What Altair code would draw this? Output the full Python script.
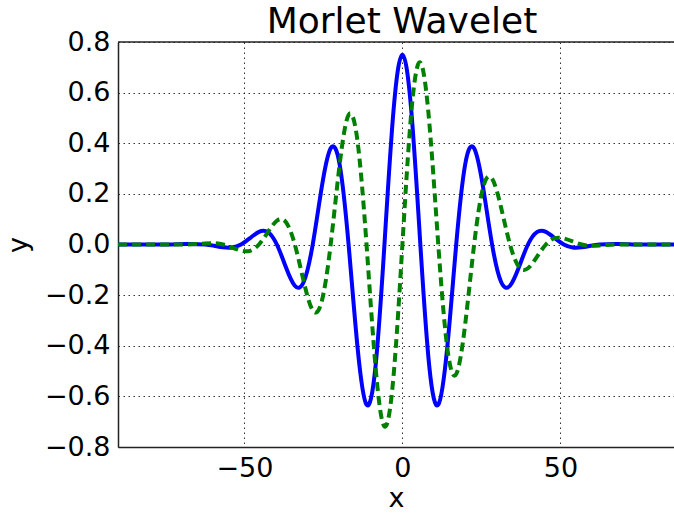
import altair as alt
import pandas as pd

# Sample positions along x (shared by both curves), symmetric about zero
x_pos = [
    -90.0, -80.0, -73.8, -68.1,
    -62.43, -59.59, -56.75, -53.91, -51.08, -48.24, -45.40, -42.56,
    -39.73, -36.89, -34.05, -31.21, -28.38, -25.54, -22.70, -19.86,
    -17.03, -14.19, -11.35, -8.51, -5.68, -2.84,
    0.0,
    2.84, 5.68, 8.51, 11.35, 14.19, 17.03, 19.86, 22.70, 25.54,
    28.38, 31.21, 34.05, 36.89, 39.73, 42.56, 45.40, 48.24, 51.08,
    53.91, 56.75, 59.59, 62.43,
    68.1, 73.8, 80.0, 90.0,
]

# Real part (solid blue)
real_part = [
    0.0, 0.0, 0.0, 0.002,
    0.0, -0.005, -0.011, -0.012, 0.0, 0.025, 0.050, 0.049,
    0.0, -0.089, -0.163, -0.147, 0.0, 0.225, 0.380, 0.316,
    0.0, -0.407, -0.633, -0.482, 0.0, 0.525,
    0.750,
    0.525, 0.0, -0.482, -0.633, -0.407, 0.0, 0.316, 0.380, 0.225,
    0.0, -0.147, -0.163, -0.089, 0.0, 0.049, 0.050, 0.025, 0.0,
    -0.012, -0.011, -0.005, 0.0,
    0.002, 0.0, 0.0, 0.0,
]

# Imaginary part (dashed green)
imag_part = [
    0.0, 0.0, 0.0, 0.0,
    0.004, 0.005, 0.0, -0.012, -0.024, -0.025, 0.0, 0.049,
    0.094, 0.089, 0.0, -0.147, -0.260, -0.225, 0.0, 0.316,
    0.512, 0.407, 0.0, -0.482, -0.719, -0.525,
    0.0,
    0.525, 0.719, 0.482, 0.0, -0.407, -0.512, -0.316, 0.0, 0.225,
    0.260, 0.147, 0.0, -0.089, -0.094, -0.049, 0.0, 0.025, 0.024,
    0.012, 0.0, -0.005, -0.004,
    0.0, 0.0, 0.0, 0.0,
]

x_ticks = [-50, 0, 50]
y_ticks = [-0.8, -0.6, -0.4, -0.2, 0.0, 0.2, 0.4, 0.6, 0.8]

df = pd.DataFrame({"x": x_pos, "real": real_part, "imag": imag_part})

FONT = "DejaVu Sans"
SPINE = "#222222"

x_enc = alt.X(
    "x:Q",
    scale=alt.Scale(domain=[-90, 85.95], nice=False, zero=False),
    axis=alt.Axis(values=x_ticks, format="d", title="x"),
)
y_scale = alt.Scale(domain=[-0.8, 0.8], nice=False)
y_axis = alt.Axis(values=y_ticks, format=".1f", title="y")

real_line = alt.Chart(df).mark_line(
    color="#0000ff", strokeWidth=4, interpolate="natural", clip=True
).encode(x=x_enc, y=alt.Y("real:Q", scale=y_scale, axis=y_axis))

imag_line = alt.Chart(df).mark_line(
    color="#008000", strokeWidth=4, strokeDash=[9, 5],
    interpolate="natural", clip=True
).encode(x=x_enc, y=alt.Y("imag:Q", scale=y_scale, axis=y_axis))

# top spine of the frame
top_spine = alt.Chart().mark_rule(color=SPINE, strokeWidth=1.5).encode(
    y=alt.datum(0.8, scale=y_scale)
)

chart = (
    alt.layer(real_line, imag_line, top_spine)
    .properties(
        width=556,
        height=405,
        title=alt.TitleParams(
            "Morlet Wavelet", font=FONT, fontSize=36, fontWeight="normal",
            color="black", anchor="middle", offset=-13, dx=6,
        ),
        autosize=alt.AutoSizeParams(type="none"),
        padding={"left": 118, "top": 42, "right": 0, "bottom": 69},
    )
    .configure_view(stroke=None)
    .configure_axis(
        labelFont=FONT, labelFontSize=27, labelColor="black",
        titleFont=FONT, titleFontSize=27, titleFontWeight="normal",
        titleColor="black",
        domainColor=SPINE, domainWidth=1.5,
        ticks=False, labelPadding=8,
        grid=True, gridColor="black", gridDash=[1.5, 3.5], gridWidth=1,
        gridOpacity=0.8,
    )
    .configure_axisX(titlePadding=4)
    .configure_axisY(titlePadding=12)
)

chart.save("out.html", embed_options={"renderer": "svg", "actions": False})
